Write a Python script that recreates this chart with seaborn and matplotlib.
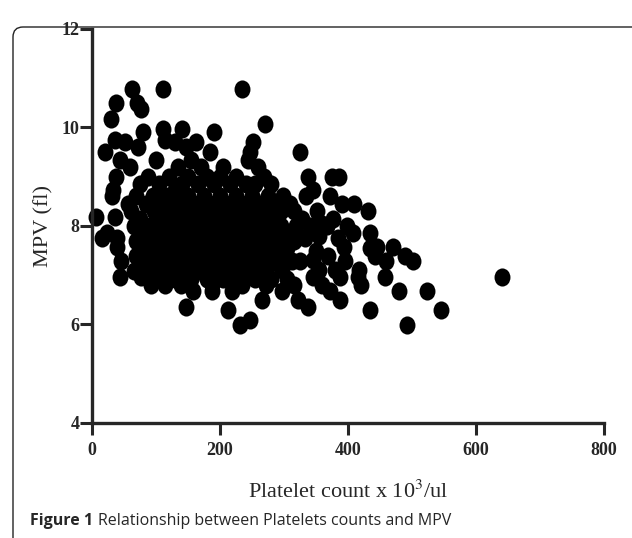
import numpy as np
import pandas as pd
import seaborn as sns
import matplotlib.pyplot as plt
from matplotlib.patches import FancyBboxPatch
from matplotlib.path import Path
from matplotlib.transforms import Affine2D

# Platelet count (x 10^3/ul) and MPV (fl)
platelet = [
    62, 111, 234,
    38, 70,
    77,
    30,
    271,
    111, 140,
    80, 190,
    114, 36,
    51, 130, 163, 252,
    72, 147,
    20, 184, 247, 325,
    44, 155, 244, 100,
    59, 135, 170, 205, 260,
    38, 88, 120, 150, 180, 200, 225, 268, 338, 375, 386,
    75, 105, 140, 165, 190, 215, 240, 255, 280,
    33, 345, 130,
    31, 68, 95, 115, 150, 175, 200, 225, 250, 275, 299, 335, 372,
    56, 85, 108, 132, 160, 185, 210, 235, 262, 288, 310, 391, 410,
    61, 97, 120, 145, 170, 195, 220, 245, 270, 295, 315, 351, 432,
    7, 36,
    75, 108, 133, 158, 183, 208, 233, 258, 283, 328, 377,
    65, 90, 118, 145, 170, 195, 220, 245, 270, 295, 318, 367, 398,
    23, 78, 103, 130, 155, 180, 205, 230, 255, 280, 305, 408, 434,
    15, 39, 333,
    68, 92, 118, 142, 167, 192, 217, 242, 267, 292, 315,
    39, 393, 445, 470,
    80, 105, 130, 155, 180, 205, 230, 255, 280, 305, 434,
    68, 93, 118, 143, 168, 193, 218, 243, 268, 293, 369, 442, 489,
    46, 312, 325, 395, 460, 502,
    80, 105, 130, 155, 180, 205, 230, 255, 280,
    297, 354, 380, 417,
    65, 93, 118, 143, 168, 193, 218, 243, 268,
    44, 77, 346, 387, 416, 458, 640,
    105, 130, 155, 180, 205, 230, 255, 280, 304,
    92, 114, 139, 187, 221, 234, 272, 315, 360, 420,
    158, 187, 218, 297, 372, 479, 523,
    265, 322, 388,
    147, 338,
    212, 434, 546,
    247,
    231, 492,
    355, 385, 350, 360, 340, 345,
]

mpv = [
    10.78, 10.78, 10.78,
    10.5, 10.5,
    10.37,
    10.17,
    10.07,
    9.96, 9.96,
    9.9, 9.9,
    9.75, 9.75,
    9.7, 9.7, 9.7, 9.7,
    9.6, 9.6,
    9.5, 9.5, 9.5, 9.5,
    9.35, 9.35, 9.35, 9.35,
    9.2, 9.2, 9.2, 9.2, 9.2,
    9.0, 9.0, 9.0, 9.0, 9.0, 9.0, 9.0, 9.0, 9.0, 9.0, 9.0,
    8.85, 8.85, 8.85, 8.85, 8.85, 8.85, 8.85, 8.85, 8.85,
    8.73, 8.73, 8.73,
    8.6, 8.6, 8.6, 8.6, 8.6, 8.6, 8.6, 8.6, 8.6, 8.6, 8.6, 8.6, 8.6,
    8.45, 8.45, 8.45, 8.45, 8.45, 8.45, 8.45, 8.45, 8.45, 8.45, 8.45, 8.45, 8.45,
    8.3, 8.3, 8.3, 8.3, 8.3, 8.3, 8.3, 8.3, 8.3, 8.3, 8.3, 8.3, 8.3,
    8.19, 8.19,
    8.15, 8.15, 8.15, 8.15, 8.15, 8.15, 8.15, 8.15, 8.15, 8.15, 8.15,
    8.0, 8.0, 8.0, 8.0, 8.0, 8.0, 8.0, 8.0, 8.0, 8.0, 8.0, 8.0, 8.0,
    7.85, 7.85, 7.85, 7.85, 7.85, 7.85, 7.85, 7.85, 7.85, 7.85, 7.85, 7.85, 7.85,
    7.75, 7.75, 7.75,
    7.7, 7.7, 7.7, 7.7, 7.7, 7.7, 7.7, 7.7, 7.7, 7.7, 7.7,
    7.58, 7.58, 7.58, 7.58,
    7.55, 7.55, 7.55, 7.55, 7.55, 7.55, 7.55, 7.55, 7.55, 7.55, 7.55,
    7.4, 7.4, 7.4, 7.4, 7.4, 7.4, 7.4, 7.4, 7.4, 7.4, 7.4, 7.4, 7.4,
    7.28, 7.28, 7.28, 7.28, 7.28, 7.28,
    7.25, 7.25, 7.25, 7.25, 7.25, 7.25, 7.25, 7.25, 7.25,
    7.1, 7.1, 7.1, 7.1,
    7.08, 7.08, 7.08, 7.08, 7.08, 7.08, 7.08, 7.08, 7.08,
    6.97, 6.97, 6.97, 6.97, 6.97, 6.97, 6.97,
    6.92, 6.92, 6.92, 6.92, 6.92, 6.92, 6.92, 6.92, 6.92,
    6.8, 6.8, 6.8, 6.8, 6.8, 6.8, 6.8, 6.8, 6.8, 6.8,
    6.67, 6.67, 6.67, 6.67, 6.67, 6.67, 6.67,
    6.5, 6.5, 6.5,
    6.36, 6.36,
    6.29, 6.29, 6.29,
    6.09,
    5.98, 5.98,
    7.8, 7.75, 7.5, 8.05, 8.0, 7.3,
]

x_ticks = [0, 200, 400, 600, 800]
y_ticks = [4, 6, 8, 10, 12]

df = pd.DataFrame({"platelet": platelet, "mpv": mpv})

sns.set_style("ticks")
plt.rcParams["font.family"] = ["Liberation Serif", "DejaVu Serif"]
plt.rcParams["mathtext.fontset"] = "stix"

fig = plt.figure(figsize=(6.32, 5.38), dpi=100)
ax = fig.add_axes([0.1456, 0.2138, 0.8101, 0.7323])

# slightly tall ellipse marker, like the original
oval = Path.unit_circle().transformed(Affine2D().scale(0.88, 1.0))
sns.scatterplot(data=df, x="platelet", y="mpv", ax=ax, color="black",
                marker=oval, s=170, linewidth=0, clip_on=False, zorder=3)

ax.set_xlim(0, 800)
ax.set_ylim(4, 12)
ax.set_xticks(x_ticks)
ax.set_yticks(y_ticks)
sns.despine(ax=ax)
for side in ["left", "bottom"]:
    ax.spines[side].set_linewidth(2.4)
    ax.spines[side].set_zorder(4)
ax.tick_params(axis="both", direction="out", length=8.5, width=2.2,
               labelsize=13)
ax.tick_params(axis="x", pad=5)
ax.tick_params(axis="y", pad=0.5)
for lab in ax.get_xticklabels() + ax.get_yticklabels():
    lab.set_fontweight("bold")

ax.set_xlabel("Platelet count x 10$^3$/ul", fontsize=16, labelpad=16)
ax.set_ylabel("MPV (fl)", fontsize=16, labelpad=6)

# caption in sans-serif, bold figure number
t1 = fig.text(30 / 632, 1 - 521 / 538, "Figure 1", fontsize=11.5,
              fontweight="bold", family=["Open Sans", "DejaVu Sans"],
              va="center", ha="left")
fig.canvas.draw()
bb = t1.get_window_extent()
fig.text((bb.x1 + 5) / 632, 1 - 521 / 538,
         "Relationship between Platelets counts and MPV", fontsize=11.5,
         family=["Open Sans", "DejaVu Sans"], va="center", ha="left")

# rounded frame that runs off the right and bottom edges
frame = FancyBboxPatch((13, -20), 640, 531, boxstyle="round,pad=0,rounding_size=10",
                       transform=None, fill=False, edgecolor="#222222",
                       linewidth=1.0, clip_on=False)
fig.patches.append(frame)

fig.savefig("out.png", dpi=100)
